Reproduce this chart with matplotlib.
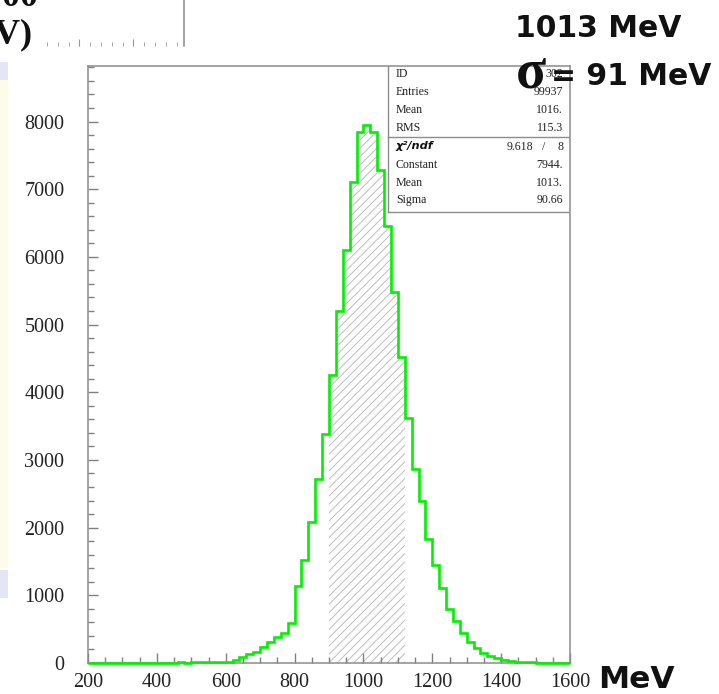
import matplotlib
matplotlib.use("Agg")
import matplotlib.pyplot as plt
from matplotlib.patches import Rectangle
from matplotlib.ticker import MultipleLocator
import numpy as np

# Histogram: 70 bins of 20 MeV from 200 to 1600 MeV
bin_lo, bin_hi, bin_w = 200, 1600, 20
counts = [0, 0, 1, 0, 1, 2, 1, 3, 2, 4,
          3, 5, 6, 8, 7, 10, 12, 16, 20, 14,
          22, 44, 84, 128, 158, 242, 306, 390, 449, 587,
          1140, 1525, 2083, 2719, 3390, 4248, 5200, 6098, 7100, 7840,
          7950, 7840, 7287, 6458, 5480, 4525, 3622, 2867, 2398, 1831,
          1441, 1115, 794, 622, 439, 316, 217, 150, 105, 72,
          48, 32, 22, 14, 9, 6, 4, 2, 1, 1]
fit_lo, fit_hi = 900, 1120

stat_names = ["ID", "Entries", "Mean", "RMS"]
stat_values = ["302", "99937", "1016.", "115.3"]
fit_names = ["Constant", "Mean", "Sigma"]
fit_values = ["7944.", "1013.", "90.66"]
chi2, ndf = "9.618", "8"

edges = np.arange(bin_lo, bin_hi + bin_w, bin_w)
counts = np.array(counts)

W, H = 719, 694
fig = plt.figure(figsize=(W / 100, H / 100), dpi=100)

def fx(px):
    return px / W

def fy(py):
    return 1 - py / H

ax = fig.add_axes([fx(88), fy(663), fx(570) - fx(88), fy(66) - fy(663)])

# hatched fit range
i0 = int((fit_lo - bin_lo) / bin_w)
i1 = int((fit_hi - bin_lo) / bin_w)
plt.rcParams['hatch.linewidth'] = 0.7
ax.stairs(counts[i0:i1], edges[i0:i1 + 1], fill=True, hatch='////',
          facecolor='none', edgecolor='#bdbdbd', linewidth=0, zorder=1)
ax.stairs(counts, edges, color='#00f000', lw=1.9, zorder=3, clip_on=False)

ax.set_xlim(bin_lo, bin_hi)
ax.set_ylim(0, 8820)
ax.xaxis.set_major_locator(MultipleLocator(200))
ax.xaxis.set_minor_locator(MultipleLocator(50))
ax.yaxis.set_major_locator(MultipleLocator(1000))
ax.yaxis.set_minor_locator(MultipleLocator(200))
ax.tick_params(which='both', direction='in', color='#808080', width=1.0)
ax.tick_params(which='major', length=7)
ax.tick_params(which='minor', length=4)
ax.tick_params(axis='x', pad=7)
ax.tick_params(axis='y', pad=17)
for lab in ax.get_xticklabels() + ax.get_yticklabels():
    lab.set_family('Liberation Serif')
    lab.set_fontsize(14.5)
    lab.set_color('#222222')
for s in ax.spines.values():
    s.set_color('#8c8c8c')
    s.set_linewidth(1.1)

# stats box
box_l = (388 - 88) / 482
sep_y = (663 - 137) / 597
box_b = (663 - 212) / 597
ax.plot([box_l, box_l], [box_b, 1], transform=ax.transAxes, color='#8c8c8c', lw=1.0, zorder=4)
ax.plot([box_l, 1], [box_b, box_b], transform=ax.transAxes, color='#8c8c8c', lw=1.0, zorder=4)
ax.plot([box_l, 1], [sep_y, sep_y], transform=ax.transAxes, color='#8c8c8c', lw=1.0, zorder=4)

fs = 8.6
rows_top = [74, 92, 110, 128]
for name, val, y in zip(stat_names, stat_values, rows_top):
    fig.text(fx(396), fy(y), name, family='Liberation Serif', fontsize=fs, va='center', color='#222222')
    fig.text(fx(563), fy(y), val, family='Liberation Serif', fontsize=fs, va='center', ha='right', color='#222222')
fig.text(fx(396), fy(146), "χ²/ndf", family='DejaVu Sans', fontsize=8.2, weight='bold', style='italic',
         va='center', color='#111111')
fig.text(fx(533), fy(147), chi2, family='Liberation Serif', fontsize=fs, va='center', ha='right', color='#222222')
fig.text(fx(544), fy(147), "/", family='Liberation Serif', fontsize=fs, va='center', ha='center', color='#222222')
fig.text(fx(563), fy(147), ndf, family='Liberation Serif', fontsize=fs, va='center', ha='right', color='#222222')
rows_bot = [165, 183, 200]
for name, val, y in zip(fit_names, fit_values, rows_bot):
    fig.text(fx(396), fy(y), name, family='Liberation Serif', fontsize=fs, va='center', color='#222222')
    fig.text(fx(563), fy(y), val, family='Liberation Serif', fontsize=fs, va='center', ha='right', color='#222222')

# slide overlay texts
fig.text(fx(681), fy(37), "1013 MeV", family='DejaVu Sans', weight='bold', fontsize=21.5,
         ha='right', va='baseline', color='#111111', zorder=10)
fig.text(fx(516), fy(88), "σ", family='Liberation Serif', weight='bold', fontsize=40,
         ha='left', va='baseline', color='#111111', zorder=10)
fig.text(fx(711), fy(85), "= 91 MeV", family='DejaVu Sans', weight='bold', fontsize=21.5,
         ha='right', va='baseline', color='#111111', zorder=10)
fig.text(fx(598), fy(688), "MeV", family='DejaVu Sans', weight='bold', fontsize=22.5,
         ha='left', va='baseline', color='#111111', zorder=10)

# fragments of the slide behind (left edge)
fig.text(fx(33), fy(43), "(MeV)", family='Liberation Serif', weight='bold', fontsize=26,
         ha='right', va='baseline', color='#111111')
fig.text(fx(38), fy(6), "1000", family='Liberation Serif', weight='bold', fontsize=26,
         ha='right', va='baseline', color='#111111')
fig.patches.append(Rectangle((0, fy(80)), fx(8), fy(62) - fy(80), transform=fig.transFigure,
                             facecolor='#e4e6f6', edgecolor='none'))
fig.patches.append(Rectangle((0, fy(568)), fx(8), fy(80) - fy(568), transform=fig.transFigure,
                             facecolor='#fefbe8', edgecolor='none'))
fig.patches.append(Rectangle((0, fy(598)), fx(8), fy(570) - fy(598), transform=fig.transFigure,
                             facecolor='#e4e6f6', edgecolor='none'))

ax2 = fig.add_axes([fx(0), fy(46), fx(184), fy(0) - fy(46)])
ax2.patch.set_alpha(0)
ax2.set_xlim(0, 184)
ax2.set_ylim(0, 1)
for k in ['top', 'left', 'bottom']:
    ax2.spines[k].set_visible(False)
ax2.spines['right'].set_color('#8c8c8c')
ax2.spines['right'].set_linewidth(1.1)
ax2.set_xticks([79, 133])
ax2.set_xticks(np.arange(47, 180, 10.8), minor=True)
ax2.set_yticks([])
ax2.tick_params(which='both', direction='in', color='#9a9a9a', labelbottom=False)
ax2.tick_params(which='major', length=5)
ax2.tick_params(which='minor', length=3)

fig.savefig("out.png", dpi=100)
